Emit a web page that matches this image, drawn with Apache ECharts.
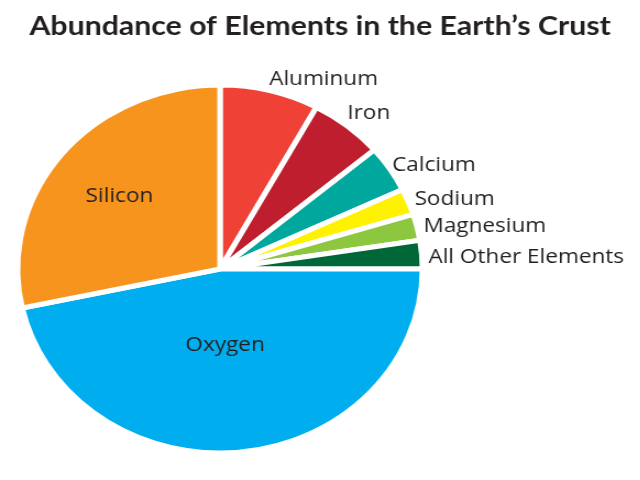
<!DOCTYPE html>
<html><head><meta charset="utf-8">
<script src="https://cdn.jsdelivr.net/npm/echarts@6/dist/echarts.min.js"></script>
<style>
html,body{margin:0;padding:0;background:#fff;overflow:hidden}
#wrap{width:640px;height:480px;overflow:hidden}
#chart{width:582px;height:480px;transform:scaleX(1.1);transform-origin:0 0}
</style>
</head><body><div id="wrap"><div id="chart"></div></div>
<script>
const titleText = 'Abundance of Elements in the Earth\u2019s Crust';
const elements = ['Aluminum','Iron','Calcium','Sodium','Magnesium','All Other Elements','Oxygen','Silicon'];
const percents = [7.9, 5.9, 4.1, 2.3, 2.3, 2.5, 46.6, 28.4];
const colors = ['#EF4136','#BE1E2D','#00A79D','#FFF200','#8DC63F','#006838','#00AEEF','#F7941D'];
const insideLabels = ['Oxygen','Silicon'];

const labelNudge = {
  'Aluminum':[-2,-6], 'Iron':[-4,-8], 'Calcium':[-3,-1], 'Sodium':[0,0],
  'Magnesium':[0,0], 'All Other Elements':[0,3],
  'Silicon':[-17.5,-13], 'Oxygen':[-5.5,-18]
};

const data = elements.map((name, i) => {
  const inside = insideLabels.indexOf(name) >= 0;
  return {
    name: name,
    value: percents[i],
    itemStyle: { color: colors[i] },
    label: inside ? { position: 'inside' } : { position: 'outside' }
  };
});

const chart = echarts.init(document.getElementById('chart'), null, {renderer: 'canvas'});
chart.setOption({
  animation: false,
  backgroundColor: '#ffffff',
  title: {
    text: titleText,
    left: 'center',
    top: 7,
    textStyle: { fontFamily: 'Lato', fontWeight: 'bold', fontSize: 27.5, color: '#231F20' }
  },
  series: [{
    type: 'pie',
    center: [200, 269],
    radius: [0, 184],
    startAngle: 90,
    clockwise: true,
    avoidLabelOverlap: false,
    itemStyle: { borderColor: '#ffffff', borderWidth: 5 },
    label: {
      show: true,
      formatter: '{b}',
      fontFamily: 'Open Sans',
      fontSize: 20.5,
      color: '#231F20',
      distanceToLabelLine: 0
    },
    labelLine: { show: false, length: 6, length2: 0 },
    labelLayout: function (p) {
      const n = labelNudge[elements[p.dataIndex]] || [0,0];
      return { dx: n[0], dy: n[1] };
    },
    emphasis: { disabled: true },
    data: data
  }]
});
</script>
</body></html>
